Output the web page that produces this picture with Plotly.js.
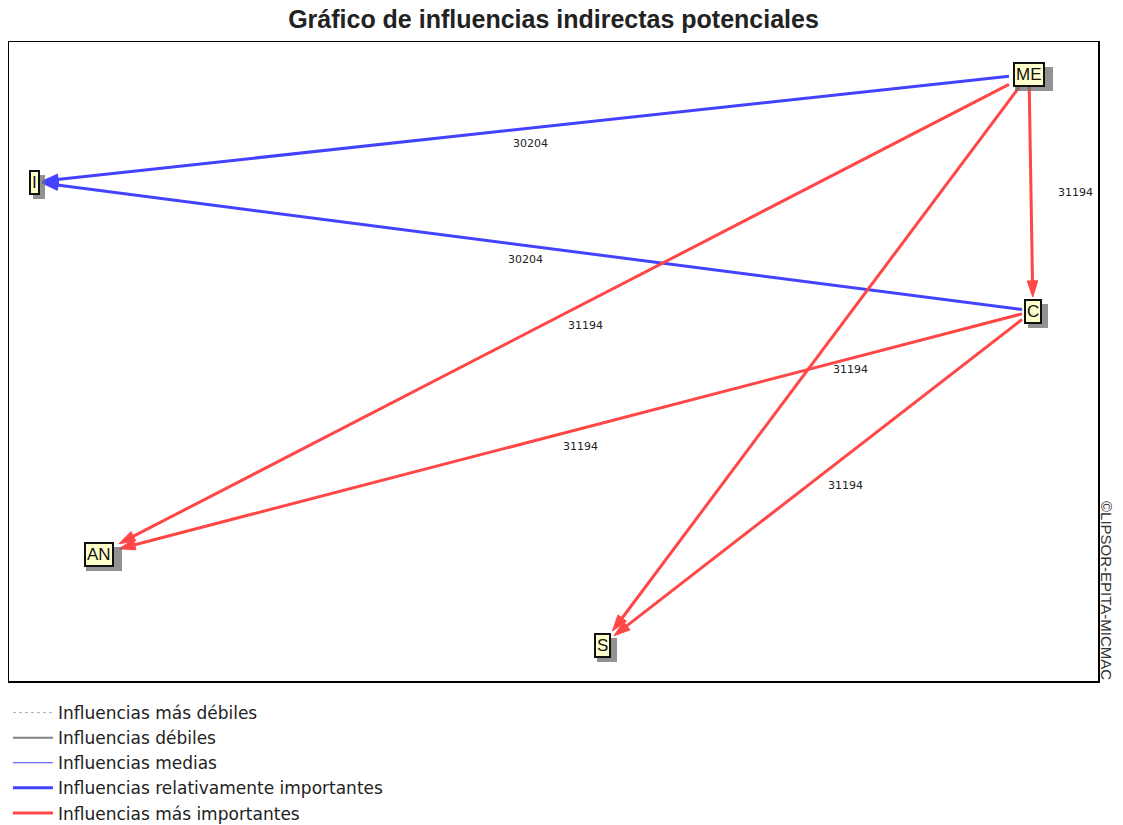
<!DOCTYPE html>
<html>
<head>
<meta charset="utf-8">
<script src="https://cdn.plot.ly/plotly-3.0.1.min.js"></script>
<style>html,body{margin:0;padding:0;background:#fff;}#chart{width:1123px;height:825px;}</style>
</head>
<body>
<div id="chart"></div>
<script>
// ---- data ----
const nodeNames = ['ME', 'I', 'C', 'AN', 'S'];
const nodeX = [1029, 34, 1033, 99, 602];
const nodeY = [74, 182, 311, 554, 645];
const edgeFrom = ['ME', 'C', 'ME', 'ME', 'ME', 'C', 'C'];
const edgeTo = ['I', 'I', 'C', 'AN', 'S', 'AN', 'S'];
const edgeValue = [30204, 30204, 31194, 31194, 31194, 31194, 31194];
const edgeClass = ['rel', 'rel', 'top', 'top', 'top', 'top', 'top'];
const legendLabels = ['Influencias más débiles', 'Influencias débiles', 'Influencias medias',
  'Influencias relativamente importantes', 'Influencias más importantes'];

// ---- styles ----
const boxHalf = {ME: [19, 12], I: [6, 12], C: [10, 12], AN: [18, 12], S: [10, 12]};
const labelShift = [[-1, -15], [-8, -13], [44, 0], [21, -11], [35, -10], [14, -14], [28, -7]];
const classStyle = {
  weakest: {color: '#b0b0b0', width: 1, dash: 'dot'},
  weak: {color: '#808080', width: 2, dash: 'solid'},
  med: {color: '#3c3cff', width: 1.2, dash: 'solid'},
  rel: {color: '#4343ff', width: 3, dash: 'solid'},
  top: {color: '#ff4747', width: 3, dash: 'solid'}
};
const legendClasses = ['weakest', 'weak', 'med', 'rel', 'top'];
const FONT = 'Liberation Sans, Arial, sans-serif';
const WIDE = 'DejaVu Sans, Verdana, sans-serif';

function idx(n) { return nodeNames.indexOf(n); }
function clip(cx, cy, ox, oy, half, gap) {
  const dx = ox - cx, dy = oy - cy;
  const tx = dx !== 0 ? (half[0] + gap) / Math.abs(dx) : Infinity;
  const ty = dy !== 0 ? (half[1] + gap) / Math.abs(dy) : Infinity;
  const t = Math.min(tx, ty);
  return [cx + dx * t, cy + dy * t];
}

const traces = [];
const annotations = [];
const shapes = [];

edgeFrom.forEach((f, k) => {
  const a = idx(f), b = idx(edgeTo[k]);
  const s = clip(nodeX[a], nodeY[a], nodeX[b], nodeY[b], boxHalf[f], 1);
  const e = clip(nodeX[b], nodeY[b], nodeX[a], nodeY[a], boxHalf[edgeTo[k]], 2);
  const st = classStyle[edgeClass[k]];
  traces.push({
    type: 'scatter', mode: 'lines+markers',
    x: [s[0], e[0]], y: [s[1], e[1]],
    line: {color: st.color, width: st.width},
    marker: {symbol: ['circle', 'arrow'], size: [0, 17], color: st.color, opacity: 1,
      angleref: 'previous', line: {width: 1, color: st.color}},
    showlegend: false, hoverinfo: 'skip'
  });
  annotations.push({
    x: (nodeX[a] + nodeX[b]) / 2, y: (nodeY[a] + nodeY[b]) / 2,
    xref: 'x', yref: 'y', text: String(edgeValue[k]), showarrow: false,
    xshift: labelShift[k][0], yshift: labelShift[k][1],
    font: {family: WIDE, size: 11, color: '#222'}
  });
});

// legend entries
legendClasses.forEach((c, k) => {
  const st = classStyle[c];
  traces.push({
    type: 'scatter', mode: 'lines', x: [null], y: [null],
    name: legendLabels[k], legendgroup: 'g' + k,
    line: {color: st.color, width: st.width, dash: st.dash},
    showlegend: true, hoverinfo: 'skip'
  });
});

// node shadows (pixel-sized rectangles anchored at each node)
nodeNames.forEach((n, k) => {
  const h = boxHalf[n];
  shapes.push({
    type: 'rect', layer: 'above', xref: 'x', yref: 'y',
    xsizemode: 'pixel', ysizemode: 'pixel', xanchor: nodeX[k], yanchor: nodeY[k],
    x0: -h[0] + 5, x1: h[0] + 5, y0: -h[1] - 5, y1: h[1] - 5,
    fillcolor: 'rgba(110,110,110,0.75)', line: {width: 0}
  });
});
// node boxes
nodeNames.forEach((n, k) => {
  annotations.push({
    x: nodeX[k], y: nodeY[k], xref: 'x', yref: 'y', text: n, showarrow: false,
    bgcolor: '#ffffcc', bordercolor: '#111', borderwidth: 2, borderpad: 1,
    font: {family: FONT, size: 17, color: '#111'}
  });
});

annotations.push({
  x: (1107 - 9) / 1089, y: (681 - 590) / 639, xref: 'paper', yref: 'paper',
  xanchor: 'center', yanchor: 'middle',
  text: '©LIPSOR-EPITA-MICMAC', showarrow: false, textangle: 90,
  font: {family: FONT, size: 15, color: '#333'}
});

const layout = {
  width: 1123, height: 825,
  margin: {l: 9, r: 25, t: 42, b: 144, autoexpand: false},
  paper_bgcolor: '#fff', plot_bgcolor: '#fff',
  title: {text: '<b>Gráfico de influencias indirectas potenciales</b>',
    font: {family: 'Liberation Sans Narrow, Arial Narrow, Liberation Sans, Arial, sans-serif', size: 25, color: '#222'},
    x: 0.5, xref: 'paper', y: 1 - 19 / 825, yref: 'container', yanchor: 'middle'},
  xaxis: {range: [9, 1098], showgrid: false, zeroline: false, showticklabels: false, ticks: '',
    showline: true, mirror: true, linecolor: '#000', linewidth: 1.5, fixedrange: true},
  yaxis: {range: [681, 42], showgrid: false, zeroline: false, showticklabels: false, ticks: '',
    showline: true, mirror: true, linecolor: '#000', linewidth: 1.5, fixedrange: true},
  showlegend: true,
  legend: {x: -0.001, xanchor: 'left', xref: 'paper', y: 1 - 695 / 825, yref: 'container', yanchor: 'top',
    font: {family: WIDE, size: 17, color: '#222'}, tracegroupgap: 0, bgcolor: 'rgba(0,0,0,0)',
    itemwidth: 40},
  shapes: shapes,
  annotations: annotations
};
Plotly.newPlot('chart', traces, layout, {displayModeBar: false, staticPlot: true});
</script>
</body>
</html>
